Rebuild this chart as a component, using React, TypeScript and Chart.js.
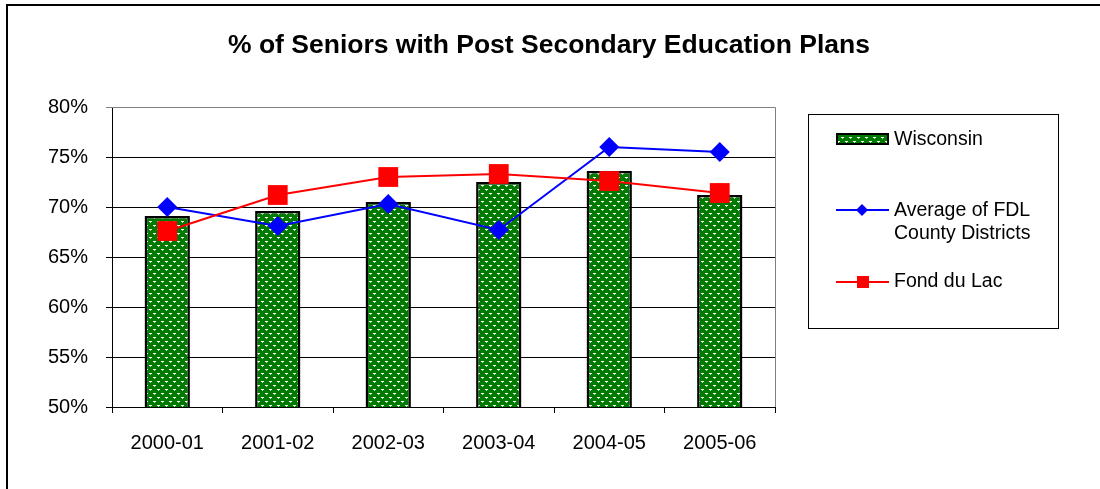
import React, { useEffect, useRef } from "react";
import { Chart, registerables } from "chart.js";

Chart.register(...registerables);

const categories = ["2000-01", "2001-02", "2002-03", "2003-04", "2004-05", "2005-06"];
const wisconsin = [69.1, 69.6, 70.5, 72.5, 73.6, 71.2];
const fdlAverage = [70.0, 68.1, 70.3, 67.7, 76.0, 75.5];
const fondDuLac = [67.6, 71.2, 73.0, 73.3, 72.6, 71.4];
const yMin = 50;
const yMax = 80;
const yStep = 5;
const titleText = "% of Seniors with Post Secondary Education Plans";
const seriesNames = ["Wisconsin", "Average of FDL County Districts", "Fond du Lac"];
const legendLines = [["Wisconsin"], ["Average of FDL", "County Districts"], ["Fond du Lac"]];

const FONT = "'Liberation Sans', Arial, sans-serif";

function makePattern(ctx: CanvasRenderingContext2D): CanvasPattern | string {
  const c = document.createElement("canvas");
  c.width = 8;
  c.height = 8;
  const g = c.getContext("2d");
  if (!g) return "#008000";
  g.fillStyle = "#007a00";
  g.fillRect(0, 0, 8, 8);
  g.fillStyle = "#ffffff";
  g.fillRect(1, 1, 3, 1);
  g.fillRect(5, 5, 3, 1);
  g.fillStyle = "#a8d8a8";
  g.fillRect(2, 2, 1, 1);
  g.fillRect(6, 6, 1, 1);
  return ctx.createPattern(c, "repeat") || "#008000";
}

export default function App() {
  const ref = useRef<HTMLCanvasElement | null>(null);

  useEffect(() => {
    const canvas = ref.current;
    if (!canvas) return;
    const ctx = canvas.getContext("2d");
    if (!ctx) return;
    const pattern = makePattern(ctx);

    const decor = {
      id: "decor",
      afterDraw(chart: any) {
        const c = chart.ctx as CanvasRenderingContext2D;
        const area = chart.chartArea;
        c.save();
        // outer frame (top & left)
        c.fillStyle = "#000";
        c.fillRect(6, 4, 1094, 2);
        c.fillRect(6, 4, 2, 485);
        // plot area top & right border
        c.strokeStyle = "#808080";
        c.lineWidth = 1;
        c.beginPath();
        c.moveTo(area.left, Math.round(area.top) + 0.5);
        c.lineTo(Math.round(area.right) + 0.5, Math.round(area.top) + 0.5);
        c.lineTo(Math.round(area.right) + 0.5, area.bottom);
        c.stroke();
        // title
        c.fillStyle = "#000";
        c.font = `bold 26.5px ${FONT}`;
        c.textAlign = "center";
        c.textBaseline = "alphabetic";
        c.fillText(titleText, 549, 53);
        // legend box
        c.strokeStyle = "#000";
        c.lineWidth = 1;
        c.strokeRect(808.5, 114.5, 250, 214);
        // Wisconsin swatch
        c.fillStyle = pattern as any;
        c.fillRect(836, 133, 53, 12);
        c.strokeStyle = "#000";
        c.lineWidth = 2;
        c.strokeRect(837, 134, 51, 10);
        // blue line
        c.strokeStyle = "#0000ff";
        c.lineWidth = 2;
        c.beginPath();
        c.moveTo(836, 210);
        c.lineTo(889, 210);
        c.stroke();
        c.fillStyle = "#0000ff";
        c.beginPath();
        c.moveTo(862, 204);
        c.lineTo(868, 210);
        c.lineTo(862, 216);
        c.lineTo(856, 210);
        c.closePath();
        c.fill();
        // red line
        c.strokeStyle = "#ff0000";
        c.beginPath();
        c.moveTo(836, 282);
        c.lineTo(889, 282);
        c.stroke();
        c.fillStyle = "#ff0000";
        c.fillRect(857, 276, 12, 12);
        // legend text
        c.fillStyle = "#000";
        c.font = `19.5px ${FONT}`;
        c.textAlign = "left";
        c.textBaseline = "middle";
        c.fillText(legendLines[0][0], 894, 140);
        c.fillText(legendLines[1][0], 894, 211);
        c.fillText(legendLines[1][1], 894, 234);
        c.fillText(legendLines[2][0], 894, 282);
        c.restore();
      },
    };

    const chart = new Chart(ctx, {
      type: "bar",
      data: {
        labels: categories,
        datasets: [
          {
            type: "line",
            label: seriesNames[2],
            data: fondDuLac,
            borderColor: "#ff0000",
            backgroundColor: "#ff0000",
            borderWidth: 2,
            pointStyle: "rect",
            pointRadius: 14,
            pointBorderWidth: 0,
            tension: 0,
            order: 1,
          } as any,
          {
            type: "line",
            label: seriesNames[1],
            data: fdlAverage,
            borderColor: "#0000ff",
            backgroundColor: "#0000ff",
            borderWidth: 2,
            pointStyle: "rectRot",
            pointRadius: 10,
            pointBorderWidth: 0,
            tension: 0,
            order: 2,
          } as any,
          {
            type: "bar",
            label: seriesNames[0],
            data: wisconsin,
            backgroundColor: pattern as any,
            borderColor: "#000",
            borderWidth: 2.5,
            barPercentage: 0.41,
            categoryPercentage: 1,
            order: 3,
          } as any,
        ],
      },
      options: {
        animation: false,
        responsive: false,
        maintainAspectRatio: false,
        layout: { padding: { left: 20, right: 325, top: 107, bottom: 0 } },
        plugins: {
          legend: { display: false },
          title: { display: false },
          tooltip: { enabled: false },
        },
        scales: {
          x: {
            grid: { display: true, drawOnChartArea: false, tickLength: 6, color: "#000", offset: true },
            border: { display: true, color: "#000", width: 1 },
            ticks: { color: "#000", font: { family: FONT, size: 20 }, padding: 18, maxRotation: 0 },
            afterFit: (s: any) => {
              s.height = 82;
            },
          },
          y: {
            min: yMin,
            max: yMax,
            ticks: {
              stepSize: yStep,
              color: "#000",
              font: { family: FONT, size: 20 },
              padding: 18,
              callback: (v: any) => `${v}%`,
            },
            grid: {
              color: (c: any) => (c.tick && c.tick.value === yMax ? "#808080" : "#000"),
              tickLength: 6,
            },
            border: { display: true, color: "#000", width: 1 },
            afterFit: (s: any) => {
              s.width = 92;
            },
          },
        },
      },
      plugins: [decor],
    });

    return () => chart.destroy();
  }, []);

  return (
    <div style={{ position: "fixed", left: 0, top: 0, width: 1100, height: 489, background: "#fff" }}>
      <canvas ref={ref} width={1100} height={489} style={{ display: "block", width: 1100, height: 489 }} />
    </div>
  );
}
